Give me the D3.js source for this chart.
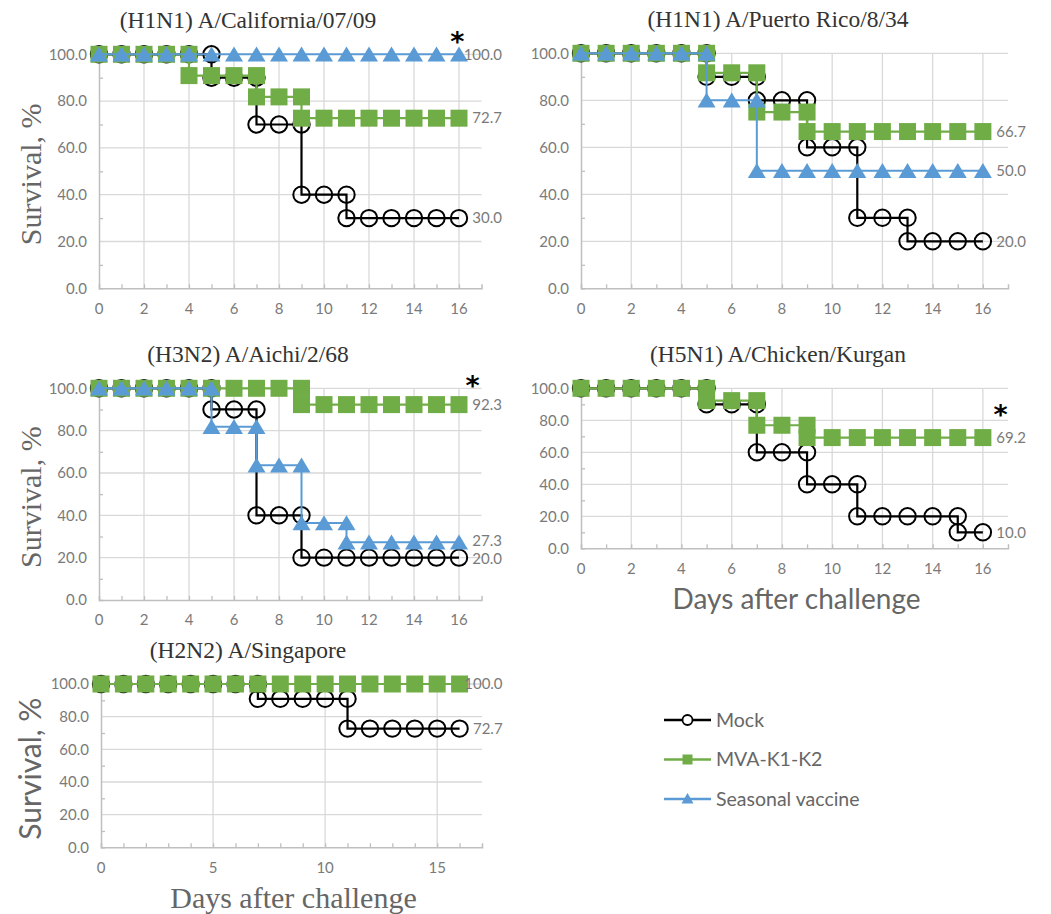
<!DOCTYPE html>
<html>
<head>
<meta charset="utf-8">
<script src="https://cdn.jsdelivr.net/npm/d3@7"></script>
<style>
  body { margin: 0; background: #fff; }
  svg { display: block; }
</style>
</head>
<body>
<svg id="chart" width="1051" height="914"></svg>
<script>
// Days after challenge (0..16)
const days = [0, 1, 2, 3, 4, 5, 6, 7, 8, 9, 10, 11, 12, 13, 14, 15, 16];

// Group names
const groups = ["Mock", "MVA-K1-K2", "Seasonal vaccine"];

// Daily survival (%) per strain and group
const californiaMock     = [100, 100, 100, 100, 100, 90, 90, 70, 70, 40, 40, 30, 30, 30, 30, 30, 30];
const californiaMVA      = [100, 100, 100, 100, 90.9, 90.9, 90.9, 81.8, 81.8, 72.7, 72.7, 72.7, 72.7, 72.7, 72.7, 72.7, 72.7];
const californiaSeasonal = [100, 100, 100, 100, 100, 100, 100, 100, 100, 100, 100, 100, 100, 100, 100, 100, 100];

const puertoRicoMock     = [100, 100, 100, 100, 100, 90, 90, 80, 80, 60, 60, 30, 30, 20, 20, 20, 20];
const puertoRicoMVA      = [100, 100, 100, 100, 100, 91.7, 91.7, 75, 75, 66.7, 66.7, 66.7, 66.7, 66.7, 66.7, 66.7, 66.7];
const puertoRicoSeasonal = [100, 100, 100, 100, 100, 80, 80, 50, 50, 50, 50, 50, 50, 50, 50, 50, 50];

const aichiMock          = [100, 100, 100, 100, 100, 90, 90, 40, 40, 20, 20, 20, 20, 20, 20, 20, 20];
const aichiMVA           = [100, 100, 100, 100, 100, 100, 100, 100, 100, 92.3, 92.3, 92.3, 92.3, 92.3, 92.3, 92.3, 92.3];
const aichiSeasonal      = [100, 100, 100, 100, 100, 81.8, 81.8, 63.6, 63.6, 36.4, 36.4, 27.3, 27.3, 27.3, 27.3, 27.3, 27.3];

const kurganMock         = [100, 100, 100, 100, 100, 90, 90, 60, 60, 40, 40, 20, 20, 20, 20, 10, 10];
const kurganMVA          = [100, 100, 100, 100, 100, 92.3, 92.3, 76.9, 76.9, 69.2, 69.2, 69.2, 69.2, 69.2, 69.2, 69.2, 69.2];

const singaporeMock      = [100, 100, 100, 100, 100, 100, 100, 90.9, 90.9, 90.9, 90.9, 72.7, 72.7, 72.7, 72.7, 72.7, 72.7];
const singaporeMVA       = [100, 100, 100, 100, 100, 100, 100, 100, 100, 100, 100, 100, 100, 100, 100, 100, 100];

// Axis ticks
const yTicks = [0, 20, 40, 60, 80, 100];
const yMinorTicks = [10, 30, 50, 70, 90];
const xTicksBy2 = [0, 2, 4, 6, 8, 10, 12, 14, 16];
const xTicksBy5 = [0, 5, 10, 15];

// Panel titles and significance marks ([day, survival] where the asterisk sits)
const titles = ["(H1N1) A/California/07/09", "(H1N1) A/Puerto Rico/8/34", "(H3N2) A/Aichi/2/68",
                "(H5N1) A/Chicken/Kurgan", "(H2N2) A/Singapore"];
const asterisks = [[15.93, 108], null, [16.6, 104], [16.7, 87], null];

// Panel layout: [left, right, top, bottom] of the plot area, title centre
const panels = [
  { title: titles[0], series: [californiaMock, californiaMVA, californiaSeasonal], star: asterisks[0],
    box: [99, 481.5, 54.3, 288.3], titleX: 248, xTicks: xTicksBy2, yLabel: "serif" },
  { title: titles[1], series: [puertoRicoMock, puertoRicoMVA, puertoRicoSeasonal], star: asterisks[1],
    box: [581, 1008, 53.3, 288.3], titleX: 778, xTicks: xTicksBy2 },
  { title: titles[2], series: [aichiMock, aichiMVA, aichiSeasonal], star: asterisks[2],
    box: [99, 481.5, 388.3, 600], titleX: 248, xTicks: xTicksBy2, yLabel: "serif" },
  { title: titles[3], series: [kurganMock, kurganMVA], star: asterisks[3],
    box: [581, 1008, 388.3, 548.3], titleX: 778, xTicks: xTicksBy2, xLabel: "sans" },
  { title: titles[4], series: [singaporeMock, singaporeMVA], star: asterisks[4],
    box: [101, 482, 684, 847.3], titleX: 248, xTicks: xTicksBy5, yLabel: "sans", xLabel: "serif" }
];

const colors = ["#000000", "#70AD47", "#5B9BD5"];
const SERIF = "'Liberation Serif', 'Times New Roman', serif";
const SANS = "Lato, 'Open Sans', sans-serif";

const svg = d3.select("#chart");

// Kaplan–Meier style point sequence: at a drop day the previous value is repeated
function stepPoints(values) {
  const pts = [];
  values.forEach((v, i) => {
    if (i > 0 && v !== values[i - 1]) pts.push([days[i], values[i - 1]]);
    pts.push([days[i], v]);
  });
  return pts;
}

const triangle = "M0,-7.8L9,7.2L-9,7.2Z";

panels.forEach(p => {
  const [x0, x1, yTop, yBot] = p.box;
  const x = d3.scaleLinear().domain([0, 17]).range([x0, x1]);
  const y = d3.scaleLinear().domain([0, 100]).range([yBot, yTop]);
  const g = svg.append("g");

  // Gridlines
  g.append("g").selectAll("line").data(yTicks.slice(1)).join("line")
    .attr("x1", x(0)).attr("x2", x(17))
    .attr("y1", d => y(d)).attr("y2", d => y(d))
    .attr("stroke", "#d9d9d9").attr("stroke-width", 1.3);
  g.append("g").selectAll("line").data(p.xTicks.slice(1)).join("line")
    .attr("x1", d => x(d)).attr("x2", d => x(d))
    .attr("y1", y(0)).attr("y2", y(100))
    .attr("stroke", "#d9d9d9").attr("stroke-width", 1.3);

  // Axes with inward minor ticks
  const xAxis = d3.axisBottom(x).tickValues(days).tickSize(-4).tickFormat("");
  const gx = g.append("g").attr("transform", `translate(0,${y(0)})`).call(xAxis);
  gx.select(".domain").attr("stroke", "#bfbfbf").attr("stroke-width", 1.5);
  gx.selectAll(".tick line").attr("stroke", "#bfbfbf").attr("stroke-width", 1.3);

  const yAxis = d3.axisLeft(y).tickValues(yMinorTicks).tickSize(-4).tickFormat("");
  const gy = g.append("g").attr("transform", `translate(${x(0)},0)`).call(yAxis);
  gy.select(".domain").attr("stroke", "#bfbfbf").attr("stroke-width", 1.5);
  gy.selectAll(".tick line").attr("stroke", "#bfbfbf").attr("stroke-width", 1.3);

  // Tick labels
  g.append("g").selectAll("text").data(yTicks).join("text")
    .attr("x", x(0) - 12).attr("y", d => y(d)).attr("dy", "0.35em")
    .attr("text-anchor", "end").attr("font-family", SANS).attr("font-size", 15)
    .attr("fill", "#7a7a7a").text(d => d.toFixed(1));
  g.append("g").selectAll("text").data(p.xTicks).join("text")
    .attr("x", d => x(d)).attr("y", y(0) + 20).attr("dy", "0.35em")
    .attr("text-anchor", "middle").attr("font-family", SANS).attr("font-size", 15)
    .attr("fill", "#7a7a7a").text(d => d);

  // Title
  g.append("text").attr("x", p.titleX).attr("y", yTop - 26)
    .attr("text-anchor", "middle").attr("font-family", SERIF).attr("font-size", 23.5)
    .attr("fill", "#333").text(p.title);

  // End values, used to keep close labels from colliding
  const lasts = p.series.map(v => v[v.length - 1]);

  // Series: line then markers, in group order
  p.series.forEach((vals, si) => {
    const pts = stepPoints(vals);
    const color = colors[si];
    g.append("path").datum(pts)
      .attr("d", d3.line().x(d => x(d[0])).y(d => y(d[1])))
      .attr("fill", "none").attr("stroke", color).attr("stroke-width", si === 2 ? 2 : 2.2);
    const mk = g.append("g").selectAll("g").data(pts).join("g")
      .attr("transform", d => `translate(${x(d[0])},${y(d[1])})`);
    if (si === 0) {
      mk.append("circle").attr("r", 8.2).attr("fill", "none")
        .attr("stroke", "#000").attr("stroke-width", 2);
    } else if (si === 1) {
      mk.append("rect").attr("x", -8.5).attr("y", -8.5).attr("width", 17).attr("height", 17)
        .attr("fill", "#70AD47");
    } else {
      mk.append("path").attr("d", triangle).attr("fill", "#5B9BD5");
    }
    // End-of-study value label
    const last = lasts[si];
    let nudge = 0;
    lasts.forEach((o, oi) => {
      if (oi !== si && Math.abs(y(o) - y(last)) < 18 && o !== last) nudge += (last > o ? -1.5 : 1.5);
    });
    g.append("text").attr("x", x(16) + 43).attr("y", y(last) + nudge).attr("dy", "0.35em")
      .attr("text-anchor", "end").attr("font-family", SANS).attr("font-size", 15)
      .attr("fill", "#7a7a7a").text(last.toFixed(1));
  });

  // Significance asterisk
  if (p.star) {
    g.append("text").attr("x", x(p.star[0])).attr("y", y(p.star[1]) + 15)
      .attr("text-anchor", "middle").attr("font-family", "'DejaVu Sans', sans-serif")
      .attr("font-weight", "bold").attr("font-size", 27).attr("fill", "#000").text("*");
  }

  // Axis titles
  if (p.yLabel) {
    const cy = (y(0) + y(100)) / 2 + 3;
    g.append("text").attr("transform", `translate(41,${cy}) rotate(-90)`)
      .attr("text-anchor", "middle")
      .attr("font-family", p.yLabel === "serif" ? SERIF : SANS).attr("font-size", 30)
      .attr("fill", "#666").text("Survival, %");
  }
  if (p.xLabel) {
    const serif = p.xLabel === "serif";
    g.append("text").attr("x", (x0 + x1) / 2 + 2).attr("y", y(0) + 61)
      .attr("text-anchor", "middle")
      .attr("font-family", serif ? SERIF : SANS).attr("font-size", serif ? 30 : 28)
      .attr("fill", "#666").text("Days after challenge");
  }
});

// Legend
const legend = svg.append("g").attr("transform", "translate(664,720)");
const rowY = d3.scalePoint().domain(groups).range([0, 79]);
groups.forEach((name, i) => {
  const row = legend.append("g").attr("transform", `translate(0,${rowY(name)})`);
  row.append("line").attr("x1", 0).attr("x2", 47).attr("stroke", colors[i]).attr("stroke-width", 2.5);
  if (i === 0) {
    row.append("circle").attr("cx", 23.5).attr("r", 5).attr("fill", "#fff")
      .attr("stroke", "#000").attr("stroke-width", 1.8);
  } else if (i === 1) {
    row.append("rect").attr("x", 18.5).attr("y", -5).attr("width", 10).attr("height", 10).attr("fill", "#70AD47");
  } else {
    row.append("path").attr("d", "M23.5,-6L29.5,4.5L17.5,4.5Z").attr("fill", "#5B9BD5");
  }
  row.append("text").attr("x", 52).attr("dy", "0.35em")
    .attr("font-family", SANS).attr("font-size", 19.5).attr("fill", "#666").text(name);
});
</script>
</body>
</html>
